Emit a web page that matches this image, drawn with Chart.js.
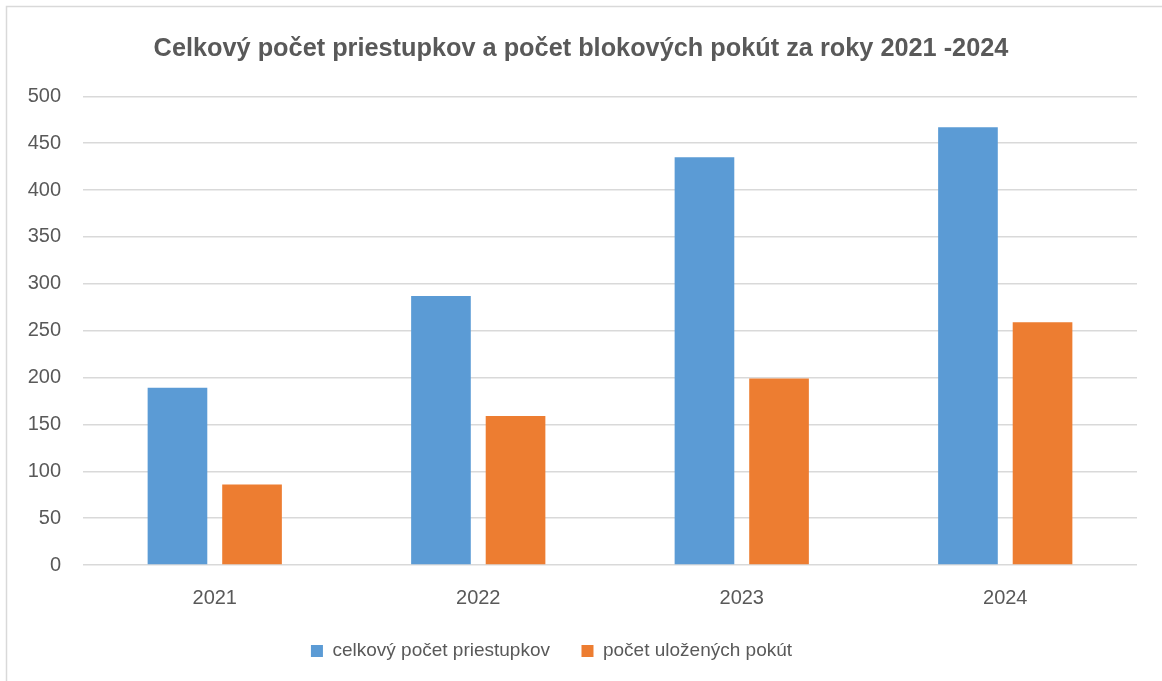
<!DOCTYPE html>
<html>
<head>
<meta charset="utf-8">
<script src="https://cdn.jsdelivr.net/npm/chart.js@4"></script>
<style>
  html, body { margin: 0; padding: 0; background: #fff; }
  #wrap { width: 1162px; height: 681px; position: relative; }
</style>
</head>
<body>
<div id="wrap"><canvas id="graf" width="1162" height="681"></canvas></div>
<script>
var roky = ['2021', '2022', '2023', '2024'];
var priestupky = [189, 287, 435, 467];
var pokuty = [86, 159, 199, 259];
var yTicks = [0, 50, 100, 150, 200, 250, 300, 350, 400, 450, 500];

var sivaText = '#595959';
var sivaMriezka = '#d9d9d9';

// tenky ramik vlavo a hore ako v exceli
var ramik = {
    id: 'ramik',
    beforeDraw: function(chart) {
        var c = chart.ctx;
        c.save();
        c.fillStyle = '#fff';
        c.fillRect(0, 0, chart.width, chart.height);
        c.strokeStyle = sivaMriezka;
        c.lineWidth = 1.5;
        c.beginPath();
        c.moveTo(6.5, chart.height);
        c.lineTo(6.5, 6.5);
        c.lineTo(chart.width, 6.5);
        c.stroke();
        c.restore();
    }
};

// legenda je v povodnom grafe trochu posunuta dolava
var posunLegendy = {
    id: 'posunLegendy',
    afterLayout: function(chart) {
        if (chart.legend) chart.legend.right -= 59;
    }
};

var ctx = document.getElementById("graf").getContext("2d");
var graf = new Chart(ctx, {
    type: 'bar',
    data: {
        labels: roky,
        datasets: [{
            label: 'celkový počet priestupkov',
            data: priestupky,
            backgroundColor: '#5B9BD5',
            barPercentage: 0.8,
            categoryPercentage: 0.566
        }, {
            label: 'počet uložených pokút',
            data: pokuty,
            backgroundColor: '#ED7D31',
            barPercentage: 0.8,
            categoryPercentage: 0.566
        }]
    },
    options: {
        responsive: false,
        animation: false,
        layout: { padding: { left: 25, right: 25, top: 0, bottom: 10.5 } },
        plugins: {
            title: {
                display: true,
                text: 'Celkový počet priestupkov a počet blokových pokút za roky 2021 -2024',
                color: sivaText,
                font: { family: 'Liberation Sans', size: 25.3, weight: 'bold' },
                padding: { top: 34, bottom: 32 }
            },
            legend: {
                position: 'bottom',
                labels: {
                    color: sivaText,
                    font: { family: 'Liberation Sans', size: 19, lineHeight: 1 },
                    boxWidth: 12,
                    boxHeight: 12,
                    padding: 31.5
                }
            },
            tooltip: { enabled: false }
        },
        scales: {
            x: {
                afterFit: function(s) { s.height = 45; },
                grid: { display: false, drawTicks: false },
                border: { display: false },
                ticks: {
                    color: sivaText,
                    font: { family: 'Liberation Sans', size: 20, lineHeight: 1 },
                    padding: 23
                }
            },
            y: {
                min: 0,
                max: 500,
                afterFit: function(s) { s.width = 58; },
                afterBuildTicks: function(s) {
                    s.ticks = yTicks.map(function(v) { return { value: v }; });
                },
                grid: { color: sivaMriezka, lineWidth: 1.5, drawTicks: false },
                border: { display: false },
                ticks: {
                    color: sivaText,
                    font: { family: 'Liberation Sans', size: 20 },
                    padding: 22
                }
            }
        }
    },
    plugins: [ramik, posunLegendy]
});
</script>
</body>
</html>
